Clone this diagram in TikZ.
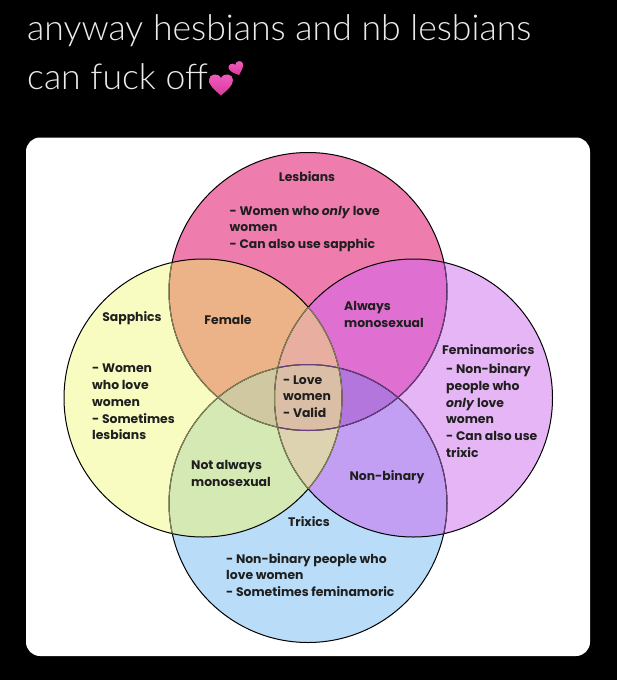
\documentclass[tikz,border=0pt]{standalone}
\usepackage{fontspec}
\setmainfont{Poppins}
\newfontfamily\titlefont{Lato Light}
\definecolor{cyel}{HTML}{F8FCC0}
\definecolor{cpnk}{HTML}{EE7DAE}
\definecolor{cpur}{HTML}{E6B5F5}
\definecolor{cblu}{HTML}{B9DCF8}
\definecolor{cora}{HTML}{ECB288}
\definecolor{cmag}{HTML}{DF6FD0}
\definecolor{cgrn}{HTML}{D5E9B4}
\definecolor{cvio}{HTML}{C39FF3}
\definecolor{csal}{HTML}{E8AFA0}
\definecolor{coli}{HTML}{CFC8A0}
\definecolor{cdpu}{HTML}{B376DC}
\definecolor{ctan}{HTML}{DDD3B0}
\definecolor{cmid}{HTML}{DABFA6}
\definecolor{cdimo}{HTML}{85855A}
\definecolor{cdimp}{HTML}{6A3F80}
\definecolor{heartA}{HTML}{F25FC0}
\definecolor{heartB}{HTML}{D93A9A}
\def\cT{(308,291.5) circle [radius=139]}
\def\cL{(203,398) circle [radius=139]}
\def\cR{(413.5,398) circle [radius=139]}
\def\cB{(308,503.5) circle [radius=139]}
\newcommand\regA[3]{\begin{scope}\clip #1;\fill[#3] #2;\end{scope}}
\newcommand\regB[4]{\begin{scope}\clip #1;\clip #2;\fill[#4] #3;\end{scope}}
\newcommand\hrt[4]{\begin{scope}[shift={(#1,#2)},rotate=#3,scale=#4]
\fill[top color=heartA,bottom color=heartB,shading angle=0]
(0,1) .. controls (-0.5,0.55) and (-1,0.2) .. (-1,-0.3) .. controls (-1,-0.8) and (-0.25,-0.95) .. (0,-0.45) .. controls (0.25,-0.95) and (1,-0.8) .. (1,-0.3) .. controls (1,0.2) and (0.5,0.55) .. (0,1) -- cycle;
\end{scope}}
\tikzset{
  vtext/.style={font=\fontsize{12.4}{16.8}\selectfont\bfseries,text=black!88,inner sep=0pt,align=left},
  vlabel/.style={vtext,anchor=center},
  vblock/.style={vtext,anchor=west},
  ttl/.style={font=\titlefont\fontsize{35.6}{40}\selectfont,text=white!92!black,inner sep=0pt,anchor=base west},
}
\begin{document}
\begin{tikzpicture}[x=1pt,y=-1pt]
\useasboundingbox (0,0) rectangle (617,680);
\fill[black] (0,0) rectangle (617,680);
\fill[white,rounded corners=14pt] (26,137.5) rectangle (590,656);
\node[ttl] (title1) at (27,40) {anyway hesbians and nb lesbians};
\node[ttl] (title2) at (27,89) {can fuck off};
\hrt{221}{83.5}{0}{12}
\hrt{236.5}{68}{20}{7.5}
% fills
\fill[cyel] \cL; \fill[cpnk] \cT; \fill[cpur] \cR; \fill[cblu] \cB;
\regA{\cT}{\cL}{cora}
\regA{\cT}{\cR}{cmag}
\regA{\cL}{\cB}{cgrn}
\regA{\cR}{\cB}{cvio}
\regA{\cL}{\cR}{ctan}
\regB{\cT}{\cL}{\cR}{csal}
\regB{\cT}{\cL}{\cB}{coli}
\regB{\cT}{\cR}{\cB}{cdpu}
\regB{\cL}{\cR}{\cB}{ctan}
\begin{scope}\clip \cT;\clip \cL;\clip \cR;\fill[cmid] \cB;\end{scope}
% outlines
\draw[black,line width=1pt] \cL \cT \cR \cB;
\begin{scope}\clip \cL;
\draw[cdimo,line width=1pt] \cT \cB \cR;
\end{scope}
\begin{scope}\clip \cR;
\draw[cdimp,line width=1pt] \cT \cB;
\draw[cdimo,line width=1pt] \cL;
\end{scope}
% labels
\node[vlabel] (lesb) at (307,177) {Lesbians};
\node[vblock] (lesbt) at (229.5,229) {- Women who \textit{only} love\\women\\- Can also use sapphic};
\node[vlabel] (sapp) at (132,318) {Sapphics};
\node[vlabel] (fem) at (228,319.5) {Female};
\node[vblock] (always) at (344,314.5) {Always\\monosexual};
\node[vblock] (femi) at (442,349.5) {Feminamorics};
\node[vblock] (femit) at (446,410.5) {- Non-binary\\people who\\\textit{only} love\\women\\- Can also use\\trixic};
\node[vblock] (sappt) at (92,402) {- Women\\who love\\women\\- Sometimes\\lesbians};
\node[vblock] (mid) at (283,396.5) {- Love\\women\\- Valid};
\node[vblock] (notal) at (191,473.5) {Not always\\monosexual};
\node[vlabel] (nb) at (387,477) {Non-binary};
\node[vlabel] (trix) at (309,522) {Trixics};
\node[vblock] (trixt) at (226,575) {- Non-binary people who\\love women\\- Sometimes feminamoric};
\end{tikzpicture}
\end{document}
